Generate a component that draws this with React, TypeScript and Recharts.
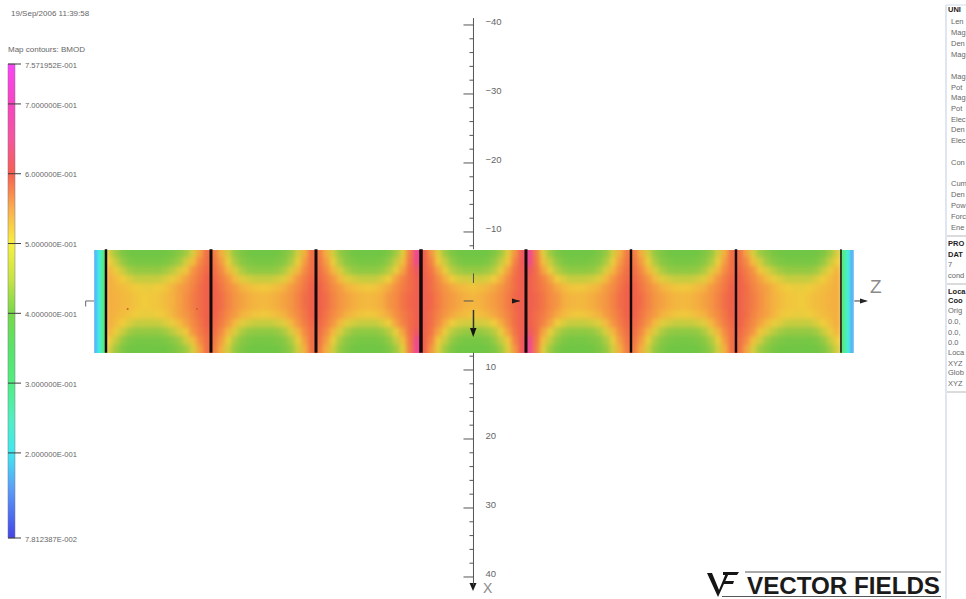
import { Bar, BarChart, ReferenceLine, Scatter, ScatterChart, XAxis, YAxis } from "recharts";

const FONT = "'Liberation Sans', Arial, sans-serif";
const TEXT = "#666666";

// BMOD colour scale
const scaleValues = [0.0781, 0.15, 0.2, 0.25, 0.3, 0.35, 0.4, 0.45, 0.5, 0.55, 0.6, 0.65, 0.7, 0.7572];
const scaleColors = [
  "#4444e8", "#5aa0f8", "#40e8f0", "#50f0c0", "#50ee80", "#58e468", "#78d848",
  "#c8e444", "#f8f040", "#fbae4c", "#f8604e", "#f8549e", "#f844c0", "#fb44f8",
];
const scaleTicks = [0.7572, 0.7, 0.6, 0.5, 0.4, 0.3, 0.2, 0.0781];
const scaleLabels = [
  "7.571952E-001", "7.000000E-001", "6.000000E-001", "5.000000E-001",
  "4.000000E-001", "3.000000E-001", "2.000000E-001", "7.812387E-002",
];

// the strip itself comes out duller than the bar, so it gets its own colours
const heatValues = [0.36, 0.38, 0.42, 0.46, 0.5, 0.54, 0.57, 0.6, 0.65, 0.7];
const heatColors = ["#68c648", "#72c644", "#a0ca42", "#d2cc3e", "#f0cc3c", "#f4ae40", "#f48a44", "#f0604a", "#ee4a88", "#f040b0"];

// one section between two coils, rows from the strip edge to the centre line
const endSection = [
  [0.47, 0.42, 0.39, 0.38, 0.375, 0.375, 0.375, 0.375, 0.38, 0.385, 0.4, 0.42, 0.47, 0.55, 0.59],
  [0.5, 0.45, 0.41, 0.39, 0.385, 0.385, 0.385, 0.385, 0.39, 0.4, 0.42, 0.46, 0.52, 0.57, 0.59],
  [0.53, 0.49, 0.45, 0.42, 0.41, 0.41, 0.41, 0.41, 0.42, 0.44, 0.47, 0.51, 0.56, 0.58, 0.595],
  [0.54, 0.52, 0.5, 0.47, 0.45, 0.45, 0.45, 0.45, 0.47, 0.49, 0.52, 0.55, 0.57, 0.585, 0.6],
  [0.54, 0.53, 0.52, 0.51, 0.5, 0.49, 0.49, 0.5, 0.51, 0.53, 0.55, 0.56, 0.575, 0.59, 0.6],
  [0.54, 0.535, 0.525, 0.52, 0.51, 0.5, 0.505, 0.51, 0.52, 0.535, 0.55, 0.565, 0.58, 0.59, 0.6],
];
const innerSection = [
  [0.58, 0.54, 0.46, 0.41, 0.39, 0.38, 0.375, 0.375, 0.375, 0.38, 0.39, 0.41, 0.46, 0.54, 0.59],
  [0.585, 0.555, 0.49, 0.43, 0.4, 0.39, 0.385, 0.385, 0.385, 0.39, 0.4, 0.43, 0.49, 0.555, 0.59],
  [0.59, 0.57, 0.53, 0.47, 0.43, 0.41, 0.405, 0.405, 0.405, 0.41, 0.43, 0.47, 0.53, 0.57, 0.59],
  [0.595, 0.58, 0.56, 0.525, 0.48, 0.46, 0.45, 0.45, 0.45, 0.46, 0.48, 0.525, 0.56, 0.58, 0.595],
  [0.6, 0.585, 0.57, 0.555, 0.535, 0.52, 0.51, 0.505, 0.51, 0.52, 0.535, 0.555, 0.57, 0.585, 0.6],
  [0.6, 0.59, 0.575, 0.56, 0.55, 0.54, 0.53, 0.525, 0.53, 0.54, 0.55, 0.56, 0.575, 0.59, 0.6],
];
const sideOfCentre = [
  [0.58, 0.54, 0.46, 0.41, 0.39, 0.38, 0.375, 0.375, 0.375, 0.38, 0.39, 0.42, 0.48, 0.58, 0.67],
  [0.585, 0.555, 0.49, 0.43, 0.4, 0.39, 0.385, 0.385, 0.385, 0.39, 0.41, 0.45, 0.52, 0.585, 0.66],
  [0.59, 0.57, 0.53, 0.47, 0.43, 0.41, 0.405, 0.405, 0.405, 0.415, 0.44, 0.49, 0.55, 0.59, 0.62],
  [0.595, 0.58, 0.56, 0.525, 0.48, 0.46, 0.45, 0.45, 0.45, 0.47, 0.5, 0.55, 0.575, 0.59, 0.605],
  [0.6, 0.585, 0.57, 0.555, 0.535, 0.52, 0.51, 0.505, 0.51, 0.525, 0.545, 0.565, 0.58, 0.59, 0.605],
  [0.6, 0.59, 0.575, 0.56, 0.55, 0.54, 0.53, 0.525, 0.53, 0.54, 0.56, 0.57, 0.585, 0.595, 0.605],
];
const centreSection = [
  [0.6, 0.56, 0.48, 0.42, 0.39, 0.38, 0.375, 0.375, 0.375, 0.38, 0.39, 0.42, 0.48, 0.56, 0.61],
  [0.6, 0.575, 0.51, 0.45, 0.41, 0.39, 0.385, 0.385, 0.385, 0.39, 0.41, 0.45, 0.51, 0.575, 0.61],
  [0.6, 0.585, 0.55, 0.49, 0.44, 0.42, 0.41, 0.41, 0.41, 0.42, 0.44, 0.49, 0.55, 0.585, 0.605],
  [0.605, 0.59, 0.57, 0.54, 0.5, 0.47, 0.46, 0.46, 0.46, 0.47, 0.5, 0.54, 0.57, 0.59, 0.605],
  [0.605, 0.59, 0.575, 0.56, 0.545, 0.53, 0.52, 0.51, 0.52, 0.53, 0.545, 0.56, 0.575, 0.59, 0.605],
  [0.605, 0.595, 0.58, 0.565, 0.555, 0.545, 0.535, 0.53, 0.535, 0.545, 0.555, 0.565, 0.58, 0.595, 0.605],
];
const flip = (table: number[][]) => table.map((row) => [...row].reverse());
const sections = [endSection, innerSection, sideOfCentre, centreSection, flip(sideOfCentre), innerSection, flip(endSection)];
const sectionStartZ = [-52.5, -37.5, -22.5, -7.5, 7.5, 22.5, 37.5];
const rowX = [-6.875, -5.625, -4.375, -3.125, -1.875, -0.625];

const endCapZ = [-54.0, -53.55, -53.1, -52.7, 52.7, 53.15, 53.6, 54.1];
const endCapValues = [0.16, 0.2, 0.26, 0.33, 0.33, 0.27, 0.22, 0.16];

const coilZ = [-52.5, -37.5, -22.5, -7.5, 7.5, 22.5, 37.5, 52.5];
const coilWidths = [2.5, 3, 3, 3.5, 3, 2.5, 2.5, 1.5];
const probeZ = [-49.4, -39.5];

const xTickValues = [
  -40, -38, -36, -34, -32, -30, -28, -26, -24, -22, -20, -18, -16, -14, -12, -10, -8,
  8, 10, 12, 14, 16, 18, 20, 22, 24, 26, 28, 30, 32, 34, 36, 38, 40,
];
const xLabelValues = [-40, -30, -20, -10, 10, 20, 30, 40];
const xLabelTexts = ["\u221240", "\u221230", "\u221220", "\u221210", "10", "20", "30", "40"];

// side panel, only the part of it that fits on the page
const panelLabels = [
  "UNI", "Len", "Mag", "Den", "Mag", "Mag", "Pot", "Mag", "Pot", "Elec", "Den", "Elec", "Con", "Cum", "Den", "Pow", "Forc", "Ene",
  "PRO", "DAT", "7", "cond", "Loca", "Coo", "Orig", "0.0,", "0.0,", "0.0", "Loca", "XYZ", "Glob", "XYZ",
];
const panelY = [
  12, 24, 35, 46, 57, 79, 90, 100, 111, 122, 132, 143, 165, 186, 197, 208, 219, 230,
  246, 257, 267, 278, 294, 303, 313, 324, 335, 345, 355, 366, 375, 386,
];
const panelBold = ["UNI", "PRO", "DAT", "Coo"];
const panelRules = [236, 284, 392];

const hexToRgb = (hex: string) => [1, 3, 5].map((i) => parseInt(hex.slice(i, i + 2), 16));
const lookup = (stops: number[], colors: string[], v: number) => {
  const i = stops.findIndex((s) => s >= v);
  if (i <= 0) return colors[0];
  const t = (v - stops[i - 1]) / (stops[i] - stops[i - 1]);
  const a = hexToRgb(colors[i - 1]);
  const b = hexToRgb(colors[i]);
  return `rgb(${a.map((c, k) => Math.round(c + (b[k] - c) * t)).join(",")})`;
};

const heatCells = sections.flatMap((table, s) =>
  table.flatMap((row, r) =>
    row.flatMap((value, c) => [
      { z: sectionStartZ[s] + c + 0.5, x: rowX[r], value },
      { z: sectionStartZ[s] + c + 0.5, x: -rowX[r], value },
    ]),
  ),
);
const endCells = endCapZ.map((z, i) => ({ z, x: 0, value: endCapValues[i] }));

const WIDTH = 966;
const HEIGHT = 599;
const Z_PX = 7;
const X_PX = 6.9;
const Z_DOMAIN = [-67.64, 70.36];
const X_DOMAIN = [-43.62, 43.19];
const LAYER = { position: "absolute", left: 0, top: 0 } as const;
const NO_MARGIN = { top: 0, right: 0, bottom: 0, left: 0 };

const HeatCell = ({ cx, cy, payload }: any) => {
  // outer rows run past the strip so the blur keeps its colour up to the clip
  const over = Math.abs(payload.x) > 6 ? 8 : 0;
  const h = 1.25 * X_PX;
  return (
    <rect
      x={cx - Z_PX / 2 - 0.5}
      y={cy - h / 2 - 0.5 - (payload.x < 0 ? over : 0)}
      width={Z_PX + 1}
      height={h + 1 + over}
      fill={lookup(heatValues, heatColors, payload.value)}
    />
  );
};

const EndCell = ({ cx, cy, payload }: any) => (
  <rect x={cx - 2} y={cy - 62} width={4} height={124} fill={lookup(scaleValues, scaleColors, payload.value)} />
);

const XTick = ({ cx, cy, payload }: any) => {
  const i = xLabelValues.indexOf(payload.x);
  const major = i >= 0;
  return (
    <g>
      <line x1={cx - (major ? 10 : 4)} x2={cx} y1={cy} y2={cy} stroke="#555" strokeWidth={1} />
      {major && (
        <text x={cx + 12} y={cy} fontSize={9.5} fontFamily={FONT} fill={TEXT}>
          {xLabelTexts[i]}
        </text>
      )}
    </g>
  );
};

const Probe = ({ cx, cy }: any) => <circle cx={cx} cy={cy} r={1} fill="#c8602c" />;

const SidePanel = () => (
  <g fontFamily={FONT} fontSize={7.5} fill={TEXT}>
    <line x1={946} x2={946} y1={5} y2={HEIGHT} stroke="#d4dcec" strokeWidth={1.5} />
    <line x1={946} x2={WIDTH} y1={5} y2={5} stroke="#d4dcec" />
    {panelRules.map((y) => (
      <line key={y} x1={947} x2={WIDTH} y1={y} y2={y} stroke="#b8b8b8" />
    ))}
    {panelLabels.map((label, i) => {
      const bold = panelBold.includes(label) || (label === "Loca" && i === 22);
      const flat = i >= 18;
      return (
        <text
          key={i}
          x={bold || flat ? 948 : 951}
          y={panelY[i]}
          fontWeight={bold ? "bold" : "normal"}
          fill={bold ? "#222" : TEXT}
        >
          {label}
        </text>
      );
    })}
  </g>
);

const Logo = () => (
  <g>
    <path d="M707 573 L712 573 L719 590 L726 573 L729 573 L718 597 Z" fill="#151515" />
    <path d="M723 572 L739 572 L737 575 L723 575 Z M724 581 L734 581 L733 584 L724 584 Z" fill="#151515" />
    <line x1={745} x2={941} y1={572} y2={572} stroke="#555" />
    <line x1={722} x2={941} y1={596.5} y2={596.5} stroke="#555" />
    <text x={747} y={594} fontFamily={FONT} fontWeight="bold" fontSize={24} fill="#1a1a1a" textLength={193} lengthAdjust="spacingAndGlyphs">
      VECTOR FIELDS
    </text>
  </g>
);

const ColourBar = () => {
  const low = scaleValues[0];
  const high = scaleValues[scaleValues.length - 1];
  return (
    <BarChart
      width={110}
      height={HEIGHT}
      data={[{ name: "BMOD", range: [low, high] }]}
      margin={{ top: 64, bottom: 61, left: 8, right: 8 }}
      barCategoryGap={0}
      style={LAYER}
    >
      <defs>
        <linearGradient id="bmodScale" x1="0" y1="0" x2="0" y2="1">
          {[...scaleValues].reverse().map((v) => (
            <stop key={v} offset={(high - v) / (high - low)} stopColor={scaleColors[scaleValues.indexOf(v)]} />
          ))}
        </linearGradient>
      </defs>
      <XAxis dataKey="name" hide />
      <YAxis
        orientation="right"
        width={87}
        type="number"
        domain={[low, high]}
        ticks={scaleTicks}
        interval={0}
        axisLine={false}
        tickSize={6}
        tickMargin={4}
        tickLine={{ stroke: "#3c3c3c" }}
        tick={{ fontSize: 7.6, fontFamily: FONT, fill: TEXT, dy: 1 }}
        tickFormatter={(v: number) => scaleLabels[scaleTicks.indexOf(v)]}
      />
      <Bar dataKey="range" fill="url(#bmodScale)" stroke="#77778a" strokeWidth={0.5} isAnimationActive={false} />
      {scaleTicks.map((v) => (
        <ReferenceLine key={v} y={v} stroke="#3c3c3c" />
      ))}
    </BarChart>
  );
};

export default function App() {
  return (
    <div style={{ ...LAYER, width: WIDTH, height: HEIGHT, overflow: "hidden", background: "#fff" }}>
      <style>{`
        .heat-cells { filter: blur(2.2px); clip-path: url(#coilClip); }
        .end-cells { filter: blur(0.8px); clip-path: url(#stripClip); }
      `}</style>

      {/* field strip */}
      <ScatterChart width={WIDTH} height={HEIGHT} margin={NO_MARGIN} style={LAYER}>
        <defs>
          <clipPath id="coilClip" clipPathUnits="userSpaceOnUse">
            <rect x={106} y={250} width={735} height={103} />
          </clipPath>
          <clipPath id="stripClip" clipPathUnits="userSpaceOnUse">
            <rect x={94} y={250} width={760} height={103} />
          </clipPath>
        </defs>
        <XAxis type="number" dataKey="z" domain={Z_DOMAIN} hide />
        <YAxis type="number" dataKey="x" domain={X_DOMAIN} reversed hide />
        <Scatter data={endCells} className="end-cells" shape={EndCell} isAnimationActive={false} />
        <Scatter data={heatCells} className="heat-cells" shape={HeatCell} isAnimationActive={false} />
        <Scatter data={probeZ.map((z) => ({ z, x: 1.16 }))} shape={Probe} isAnimationActive={false} />
      </ScatterChart>

      {/* coils, axes and the page furniture go in a second chart on top */}
      <ScatterChart width={WIDTH} height={HEIGHT} margin={NO_MARGIN} style={LAYER}>
        <XAxis type="number" dataKey="z" domain={Z_DOMAIN} hide />
        <YAxis type="number" dataKey="x" domain={X_DOMAIN} reversed hide />

        {coilZ.map((z, i) => (
          <ReferenceLine key={z} segment={[{ x: z, y: -7.5 }, { x: z, y: 7.5 }]} stroke="#160a0a" strokeWidth={coilWidths[i]} />
        ))}

        <ReferenceLine segment={[{ x: 0, y: -41 }, { x: 0, y: -7.5 }]} stroke="#555" />
        <ReferenceLine segment={[{ x: 0, y: 7.5 }, { x: 0, y: 41.2 }]} stroke="#555" />
        <ReferenceLine segment={[{ x: 0, y: -4 }, { x: 0, y: -2.6 }]} stroke="#555" />
        <ReferenceLine segment={[{ x: 0, y: 1.3 }, { x: 0, y: 4 }]} stroke="#333" strokeWidth={1.5} />
        <ReferenceLine segment={[{ x: -1.4, y: 0 }, { x: 0, y: 0 }]} stroke="#555" />
        <ReferenceLine segment={[{ x: 5.5, y: 0 }, { x: 6.6, y: 0 }]} stroke="#222" />
        <ReferenceLine segment={[{ x: -55.4, y: 0 }, { x: -54.2, y: 0 }]} stroke="#666" />
        <ReferenceLine segment={[{ x: -55.4, y: 0 }, { x: -55.4, y: 0.8 }]} stroke="#666" />
        <ReferenceLine segment={[{ x: 54.4, y: 0 }, { x: 56, y: 0 }]} stroke="#333" />
        <Scatter data={xTickValues.map((x) => ({ z: 0, x }))} shape={XTick} isAnimationActive={false} />

        {/* axis arrow heads */}
        <path d="M469.5 583 L476.5 583 L473 591 Z" fill="#1a1a1a" />
        <path d="M470 328 L476.5 328 L473.2 337 Z" fill="#151515" />
        <path d="M512 298.5 L520 301 L512 303.5 Z" fill="#151515" />
        <path d="M860 298.5 L868 301 L860 303.5 Z" fill="#1a1a1a" />

        <text x={483} y={593} fontFamily={FONT} fontSize={14} fill="#8a8a8a">X</text>
        <text x={870} y={293} fontFamily={FONT} fontSize={19} fill="#8a8a8a">Z</text>
        <text x={11} y={16} fontFamily={FONT} fontSize={8} fill={TEXT}>19/Sep/2006 11:39:58</text>
        <text x={8} y={52} fontFamily={FONT} fontSize={8} fill={TEXT}>Map contours: BMOD</text>

        <SidePanel />
        <Logo />
      </ScatterChart>

      <ColourBar />
    </div>
  );
}
